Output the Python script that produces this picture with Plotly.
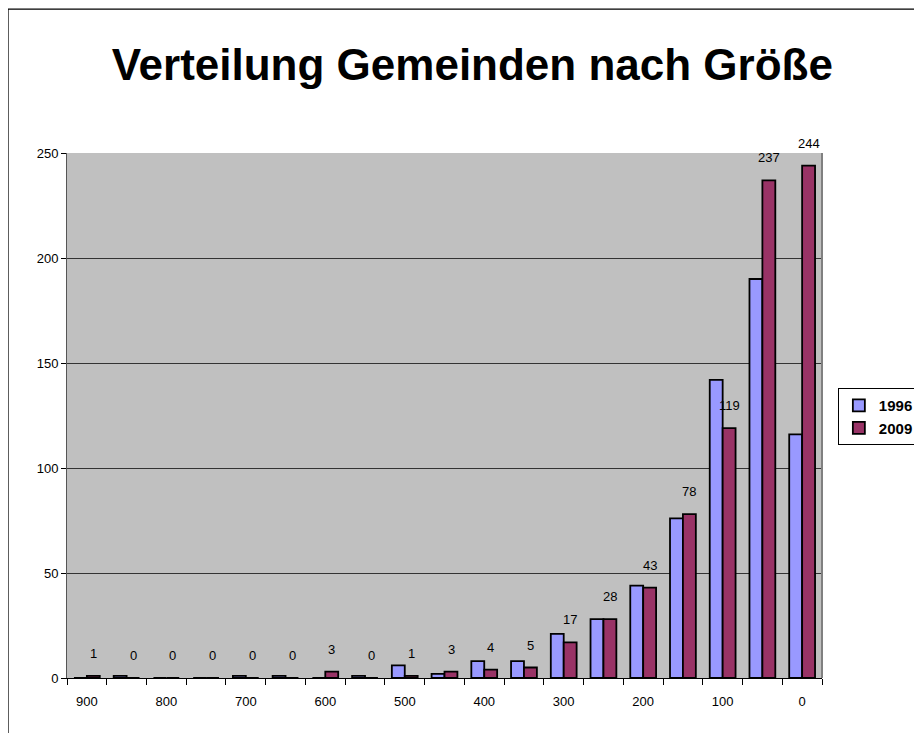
import plotly.graph_objects as go

categories = ["900", "850", "800", "750", "700", "650", "600", "550", "500", "450",
              "400", "350", "300", "250", "200", "150", "100", "50", "0"]
tick_labels = ["900", "", "800", "", "700", "", "600", "", "500", "",
               "400", "", "300", "", "200", "", "100", "", "0"]
values_1996 = [0, 1, 0, 0, 1, 1, 0, 1, 6, 2, 8, 8, 21, 28, 44, 76, 142, 190, 116]
values_2009 = [1, 0, 0, 0, 0, 0, 3, 0, 1, 3, 4, 5, 17, 28, 43, 78, 119, 237, 244]

FONT = "Liberation Sans, Arial, sans-serif"

fig = go.Figure()
fig.add_trace(go.Bar(x=categories, y=values_1996, name="1996",
                     marker=dict(color="#9999FF", line=dict(color="black", width=1.8))))
fig.add_trace(go.Bar(x=categories, y=values_2009, name="2009",
                     marker=dict(color="#993366", line=dict(color="black", width=1.8))))

# data labels above the 2009 bars (x given as category index)
annotations = []
for i, v in enumerate(values_2009):
    annotations.append(dict(
        x=i, y=v, xref="x", yref="y", text=str(v), showarrow=False,
        xshift=6.5, yshift=13, yanchor="bottom",
        font=dict(family=FONT, size=13, color="black"),
    ))

fig.update_layout(
    width=914, height=725,
    margin=dict(l=59, r=100, t=145, b=55, autoexpand=False),
    paper_bgcolor="white",
    plot_bgcolor="#C0C0C0",
    barmode="group",
    bargap=0.35,
    bargroupgap=0,
    title=dict(text="<b>Verteilung Gemeinden nach Größe</b>",
               x=0.508, xanchor="center", xref="container",
               y=0.922, yanchor="middle", yref="container",
               font=dict(family=FONT, size=44, color="black")),
    font=dict(family=FONT, size=13, color="black"),
    xaxis=dict(
        type="category", range=[-0.5, 18.5],
        tickmode="array", tickvals=categories, ticktext=tick_labels,
        tickson="boundaries", ticks="outside", ticklen=6, tickcolor="black",
        ticklabelstandoff=11,
        showline=True, linecolor="black", linewidth=1,
        showgrid=False,
        tickfont=dict(family=FONT, size=13, color="black"),
    ),
    yaxis=dict(
        range=[0, 250], tickvals=[0, 50, 100, 150, 200, 250],
        ticks="outside", ticklen=5, tickcolor="black",
        showline=True, linecolor="#555555", linewidth=1,
        showgrid=True, gridcolor="#333333", gridwidth=1,
        zeroline=False,
        tickfont=dict(family=FONT, size=13, color="black"),
    ),
    legend=dict(
        x=1.021, y=0.552, xanchor="left", yanchor="top",
        bgcolor="white", bordercolor="black", borderwidth=1,
        font=dict(family=FONT, size=15, color="black", weight="bold"),
        itemwidth=30,
    ),
    annotations=annotations,
    shapes=[
        # outer chart border
        dict(type="rect", xref="paper", yref="paper",
             x0=-0.0781, y0=-0.3, x1=1.3, y1=1.274,
             line=dict(color="black", width=1.2), fillcolor="rgba(0,0,0,0)",
             layer="below"),
        # right border of plot area
        dict(type="line", xref="paper", yref="paper", x0=1, x1=1, y0=0, y1=1,
             line=dict(color="#808080", width=2)),
    ],
)

fig.write_html("out.html")
